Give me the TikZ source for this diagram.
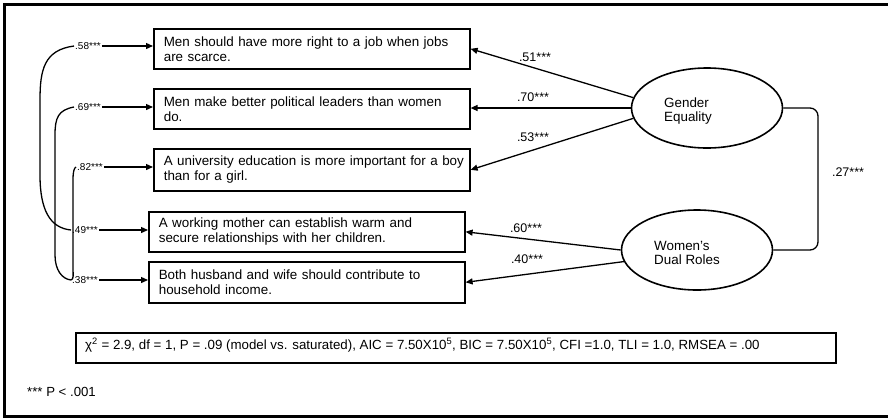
\documentclass[tikz,border=0pt]{standalone}
\usepackage{fontspec}
\setmainfont{Liberation Sans}
\usetikzlibrary{arrows.meta,shapes.geometric,calc}
\begin{document}
\begin{tikzpicture}[x=1pt,y=-1pt,
  stmt/.style={draw, line width=1.6pt, rectangle, anchor=north west, minimum height=40pt, inner xsep=10pt, inner ysep=0pt, text width=296pt, align=left, font=\fontsize{13.4}{15}\selectfont},
  lat/.style={draw, ellipse, line width=1.6pt, minimum width=151pt, minimum height=80pt, inner sep=0pt},
  lattext/.style={align=left, font=\fontsize{13.4}{14}\selectfont, inner sep=0pt},
  coef/.style={font=\fontsize{12.5}{13}\selectfont, inner sep=1pt},
  errl/.style={font=\fontsize{10}{11}\selectfont, inner sep=1pt},
  pathar/.style={line width=1.3pt, -{Triangle[length=7pt,width=6pt]}},
  cov/.style={line width=1.3pt}
]
\useasboundingbox (0,0) rectangle (888,418);
\draw[line width=3pt] (888,4) -- (4,4) -- (4,416) -- (888,416);

% statements
\node[stmt] (b1) at (153,28) {\mbox{Men should have more right to a job when jobs}\\are scarce.};
\node[stmt] (b2) at (153,88) {\mbox{Men make better political leaders than women}\\do.};
\node[stmt, minimum height=42pt] (b3) at (153,148) {\mbox{A university education is more important for a boy}\\than for a girl.};
\node[stmt] (b4) at (148,211) {\mbox{A working mother can establish warm and}\\secure relationships with her children.};
\node[stmt, minimum height=41pt] (b5) at (148,261) {\mbox{Both husband and wife should contribute to}\\household income.};

% latent factors
\node[lat] (ge) at (707,108) {};
\node[lattext] (get) at (688,111) {Gender\\Equality};
\node[lat] (wdr) at (697,250) {};
\node[lattext] (wdrt) at (687,253) {Women’s\\Dual Roles};

% loadings
\draw[pathar] (ge.172) -- (b1.east);
\draw[pathar] (ge.west) -- (ge.west -| b2.east);
\draw[pathar] (ge.188) -- (b3.east);
\draw[pathar] (wdr.west) -- (b4.east);
\draw[pathar] (wdr.189) -- (b5.east);

\node[coef] (c51) at (535,57) {.51***};
\node[coef] (c70) at (533,97) {.70***};
\node[coef] (c53) at (533,137) {.53***};
\node[coef] (c60) at (526,228) {.60***};
\node[coef] (c40) at (527,259) {.40***};
\node[coef] (c27) at (848,172) {.27***};

% factor correlation
\coordinate (rc) at (818,108);
\draw[cov, rounded corners=8pt] (ge.east) -- (rc) |- (wdr.east);

% error terms
\node[errl] (e58) at (88,46) {.58***};
\node[errl] (e69) at (88,107) {.69***};
\node[errl] (e82) at (90,167) {.82***};
\node[errl] (e49) at (85,230) {.49***};
\node[errl] (e38) at (85,280) {.38***};
\draw[pathar] (e58.east) -- (e58.east -| b1.west);
\draw[pathar] (e69.east) -- (e69.east -| b2.west);
\draw[pathar] (e82.east) -- (e82.east -| b3.west);
\draw[pathar] (e49.east) -- (e49.east -| b4.west);
\draw[pathar] (e38.east) -- (e38.east -| b5.west);

\draw[cov] (e58.west) .. controls (44,50) and (40,70) .. (40,100) -- (40,175) .. controls (40,210) and (50,228) .. (e49.west);
\draw[cov] (e69.west) .. controls (58,110) and (55,118) .. (55,135) -- (55,255) .. controls (55,270) and (62,279) .. (e38.west);
\draw[cov] (e82.west) .. controls (74,168) and (73,172) .. (73,180) -- (73,268) .. controls (73,275) and (74,279) .. (e38.west);

% fit statistics
\node[draw, line width=1.6pt, rectangle, anchor=north west, minimum width=760pt, minimum height=30pt, inner sep=0pt] (fit) at (75,332) {};
\node[font=\fontsize{13.3}{15}\selectfont, anchor=west, inner sep=0pt] (fitt) at (85,345) {χ\textsuperscript{2} = 2.9, df = 1, P = .09 (model vs. saturated), AIC = 7.50X10\textsuperscript{5}, BIC = 7.50X10\textsuperscript{5}, CFI =1.0, TLI = 1.0, RMSEA = .00};

\node[font=\fontsize{13.2}{15}\selectfont, anchor=west, inner sep=0pt] (note) at (27,392) {*** P < .001};
\end{tikzpicture}
\end{document}
